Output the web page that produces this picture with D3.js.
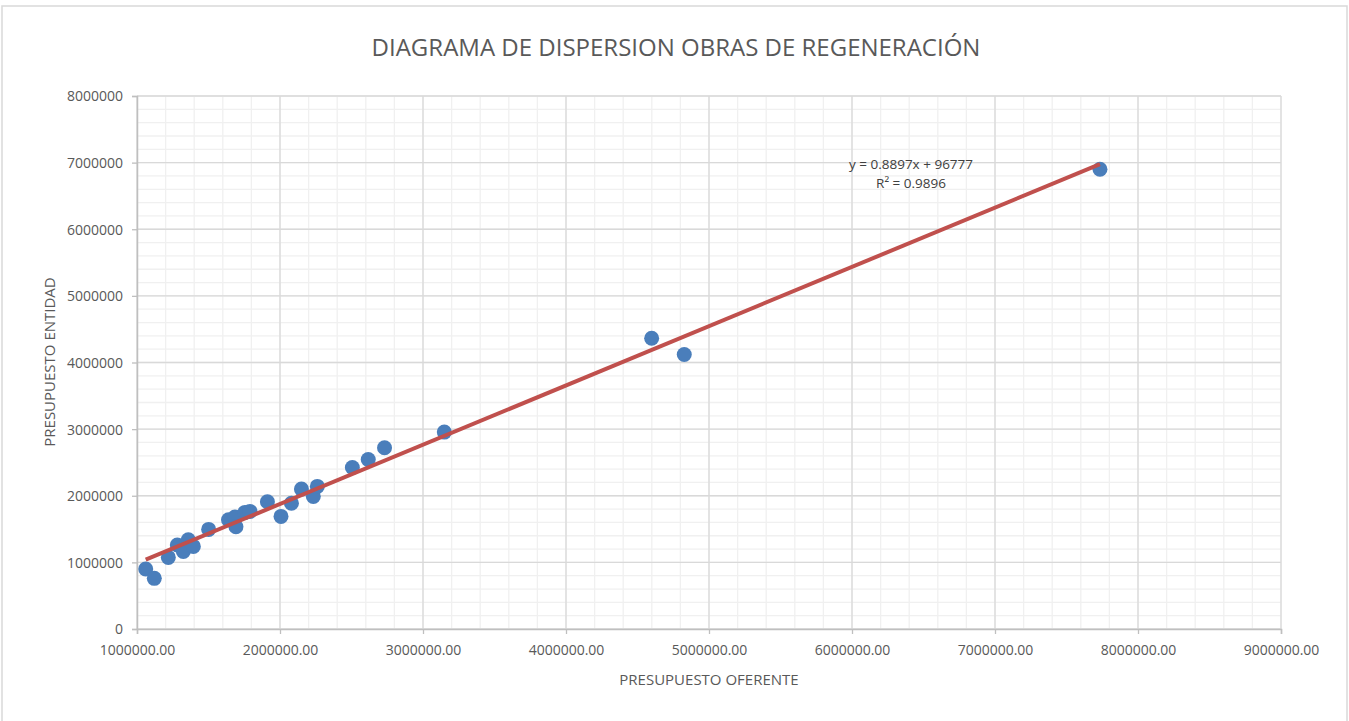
<!DOCTYPE html>
<html><head><meta charset="utf-8">
<script src="https://cdn.jsdelivr.net/npm/d3@7"></script>
<style>body{margin:0;background:#fff}svg{display:block}</style>
</head><body><svg id="c" width="1349" height="721"></svg>
<script>
const title = "DIAGRAMA DE DISPERSION OBRAS DE REGENERACIÓN";
const xTitle = "PRESUPUESTO OFERENTE";
const yTitle = "PRESUPUESTO ENTIDAD";
const presupuestoOferente = [1061000,1121000,1219000,1282000,1324000,1359000,1394000,1501000,1640000,1685000,1692000,1755000,1790000,1912000,2007000,2080000,2150000,2233000,2261000,2506000,2617000,2731000,3149000,4599000,4827000,7734000];
const presupuestoEntidad  = [ 900000, 760000,1075000,1260000,1165000,1340000,1240000,1495000,1640000,1680000,1535000,1750000,1765000,1911000,1690000,1887000,2100000,1990000,2140000,2425000,2545000,2720000,2955000,4365000,4120000,6900000];
const trendSlope = 0.8897, trendIntercept = 96777;
const trendLabel = ["y = 0.8897x + 96777", "R² = 0.9896"];
const xTicks = [1000000,2000000,3000000,4000000,5000000,6000000,7000000,8000000,9000000];
const yTicks = [0,1000000,2000000,3000000,4000000,5000000,6000000,7000000,8000000];

const svg = d3.select("#c");
const font = "'Open Sans', 'Noto Sans', sans-serif";
const L=137, R=1281, T=96, B=629;
const x = d3.scaleLinear().domain([1000000,9000000]).range([L,R]);
const y = d3.scaleLinear().domain([0,8000000]).range([B,T]);

svg.append("rect").attr("x",2).attr("y",6).attr("width",1345).attr("height",730)
  .attr("fill","#fff").attr("stroke","#d9d9d9").attr("stroke-width",1.5);

// minor grid
const xMinor = d3.range(1000000, 9000001, 200000);
const yMinor = d3.range(0, 8000001, 200000);
const g = svg.append("g");
g.selectAll(".vm").data(xMinor).join("line").attr("x1",d=>x(d)).attr("x2",d=>x(d)).attr("y1",T).attr("y2",B).attr("stroke","#f0f0f0").attr("stroke-width",1.3);
g.selectAll(".hm").data(yMinor).join("line").attr("y1",d=>y(d)).attr("y2",d=>y(d)).attr("x1",L).attr("x2",R).attr("stroke","#f0f0f0").attr("stroke-width",1.3);
// major grid
g.selectAll(".vM").data(xTicks).join("line").attr("x1",d=>x(d)).attr("x2",d=>x(d)).attr("y1",T).attr("y2",B).attr("stroke","#d9d9d9").attr("stroke-width",1.3);
g.selectAll(".hM").data(yTicks).join("line").attr("y1",d=>y(d)).attr("y2",d=>y(d)).attr("x1",L).attr("x2",R).attr("stroke","#d9d9d9").attr("stroke-width",1.3);

// axes
const xAxis = d3.axisBottom(x).tickValues(xTicks).tickSize(5).tickPadding(11).tickFormat(d=>d.toFixed(2));
const yAxis = d3.axisLeft(y).tickValues(yTicks).tickSize(5).tickPadding(9).tickFormat(d=>String(d));
const gx = svg.append("g").attr("transform",`translate(0,${B})`).call(xAxis);
const gy = svg.append("g").attr("transform",`translate(${L},0)`).call(yAxis);
[gx,gy].forEach(a=>{
  a.select(".domain").attr("stroke","#bfbfbf").attr("stroke-width",1.5);
  a.selectAll(".tick line").attr("stroke","#bfbfbf").attr("stroke-width",1.3);
  a.selectAll("text").attr("fill","#595959").style("font-family",font).style("font-size","14px");
});
gy.selectAll("text").attr("dy","0.35em");

// points
const pts = presupuestoOferente.map((v,i)=>[v,presupuestoEntidad[i]]);
svg.append("g").selectAll("circle").data(pts).join("circle")
  .attr("cx",d=>x(d[0])).attr("cy",d=>y(d[1])).attr("r",7.5).attr("fill","#4a7ebb");

// trendline
const xmin = d3.min(presupuestoOferente), xmax = d3.max(presupuestoOferente);
svg.append("line").attr("x1",x(xmin)).attr("y1",y(trendSlope*xmin+trendIntercept))
  .attr("x2",x(xmax)).attr("y2",y(trendSlope*xmax+trendIntercept))
  .attr("stroke","#c0504d").attr("stroke-width",4);

// trend label
svg.append("g").selectAll("text").data(trendLabel).join("text")
  .attr("x",911).attr("y",(d,i)=>169+i*19).attr("text-anchor","middle")
  .attr("fill","#404040").style("font-family",font).style("font-size","13.5px").text(d=>d);

// titles
svg.append("text").attr("x",676).attr("y",56).attr("text-anchor","middle")
  .attr("fill","#595959").style("font-family",font).style("font-size","24px").text(title);
svg.append("text").attr("x",709).attr("y",685).attr("text-anchor","middle")
  .attr("fill","#595959").style("font-family",font).style("font-size","15px").text(xTitle);
svg.append("text").attr("transform","translate(55,362) rotate(-90)").attr("text-anchor","middle")
  .attr("fill","#595959").style("font-family",font).style("font-size","15px").text(yTitle);
</script></body></html>
